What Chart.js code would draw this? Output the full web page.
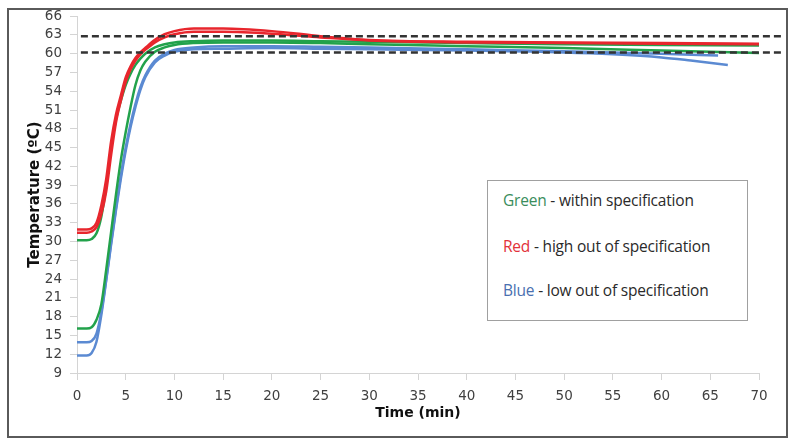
<!DOCTYPE html>
<html lang="en">
  <head>
    <meta charset="UTF-8" />
    <title>Temperature vs Time</title>
    <script src="https://cdn.jsdelivr.net/npm/chart.js"></script>
    <style>
      body {
        margin: 0;
        background: #fff;
      }
      .wrap {
        position: relative;
        width: 796px;
        height: 444px;
      }
      .frame {
        position: absolute;
        left: 7px;
        top: 8px;
        width: 777px;
        height: 426px;
        border: 2px solid #5a5a5a;
        pointer-events: none;
      }
      .note {
        position: absolute;
        left: 487px;
        top: 180px;
        width: 259px;
        height: 139px;
        border: 1px solid #a0a0a0;
        background: #fff;
        font-family: "Open Sans", sans-serif;
        font-size: 15.5px;
        color: #2a2a2a;
      }
      .note div {
        position: absolute;
        left: 15px;
        line-height: 20px;
        white-space: nowrap;
        letter-spacing: -0.2px;
      }
    </style>
  </head>
  <body>
    <div class="wrap">
      <canvas id="tempChart"></canvas>
      <div class="frame"></div>
      <div class="note">
        <div style="top: 9px"><span style="color: #3a8d5c">Green</span> - within specification</div>
        <div style="top: 55px"><span style="color: #e2323a">Red</span> - high out of specification</div>
        <div style="top: 99px"><span style="color: #4a70b0">Blue</span> - low out of specification</div>
      </div>
    </div>

    <script>
      // sample times (min)
      const timeA = [0, 1, 1.5, 2, 2.5, 3, 3.5, 4, 4.5, 5, 5.5, 6, 6.5, 7, 8, 9, 10, 12, 15, 20, 25, 30, 40, 50, 60, 70];
      const blueTime1 = timeA.slice(0, 25).concat([65.8]);
      const blueTime2 = timeA.slice(0, 24).concat([55, 60, 63, 66.8]);

      // temperatures (degC)
      const red1 = [31.9, 31.9, 32.1, 33.0, 35.8, 40.0, 46.0, 50.3, 53.3, 56.2, 58.0, 59.3, 60.2, 60.9, 62.2, 63.1, 63.6, 64.0, 64.0, 63.6, 62.8, 62.2, 61.9, 61.8, 61.7, 61.6];
      const red2 = [31.4, 31.4, 31.6, 32.3, 34.4, 38.0, 43.8, 49.0, 52.5, 55.5, 57.5, 58.9, 59.9, 60.6, 61.8, 62.6, 63.1, 63.5, 63.5, 63.2, 62.6, 62.1, 61.8, 61.7, 61.6, 61.5];
      const green1 = [30.2, 30.2, 30.4, 31.3, 34.0, 38.8, 45.0, 49.5, 52.5, 55.0, 56.8, 58.2, 59.2, 60.0, 61.0, 61.5, 61.8, 62.0, 62.1, 62.1, 62.0, 61.9, 61.7, 61.5, 61.4, 61.3];
      const green2 = [16.1, 16.1, 16.3, 17.5, 20.0, 25.5, 31.5, 37.5, 43.0, 47.5, 51.5, 55.0, 57.3, 58.7, 60.3, 61.0, 61.4, 61.7, 61.8, 61.8, 61.7, 61.5, 61.2, 60.9, 60.5, 60.1];
      const blue1 = [13.9, 13.9, 14.1, 15.3, 18.8, 24.0, 29.8, 35.3, 40.5, 45.0, 48.8, 52.0, 54.6, 56.5, 58.9, 60.0, 60.6, 61.0, 61.2, 61.2, 61.1, 61.0, 60.7, 60.4, 60.0, 59.7];
      const blue2 = [11.8, 11.8, 12.2, 14.0, 18.3, 23.8, 29.5, 35.0, 40.0, 44.5, 48.3, 51.5, 54.2, 56.2, 58.6, 59.7, 60.3, 60.7, 60.8, 60.9, 60.8, 60.7, 60.5, 60.2, 59.9, 59.4, 58.9, 58.2];

      // specification limits (dashed)
      const specUpper = 62.8;
      const specLower = 60.2;
      const specTime = [0.4, 72.5];

      const pts = (xs, ys) => xs.map((x, i) => ({ x: x, y: ys[i] }));
      const specLine = (v) => specTime.map((x) => ({ x: x, y: v }));

      const curve = (data, color, order) => ({
        data: data,
        borderColor: color,
        borderWidth: 2.5,
        pointRadius: 0,
        cubicInterpolationMode: "monotone",
        order: order,
      });
      const dashed = (data) => ({
        data: data,
        borderColor: "#333",
        borderWidth: 2.5,
        borderDash: [7, 4],
        pointRadius: 0,
        clip: false,
        order: 0,
      });

      const tickFont = { family: "DejaVu Sans", size: 13.5 };

      new Chart(document.getElementById("tempChart"), {
        type: "line",
        data: {
          datasets: [
            dashed(specLine(specUpper)),
            dashed(specLine(specLower)),
            curve(pts(timeA, red1), "#e8262d", 1),
            curve(pts(timeA, red2), "#e8262d", 1),
            curve(pts(timeA, green1), "#22a24b", 2),
            curve(pts(timeA, green2), "#22a24b", 2),
            curve(pts(blueTime1, blue1), "#5b8ad2", 3),
            curve(pts(blueTime2, blue2), "#5b8ad2", 3),
          ],
        },
        options: {
          responsive: true,
          maintainAspectRatio: false,
          animation: false,
          layout: { padding: { left: 10, right: 37, top: 16, bottom: 14 } },
          plugins: { legend: { display: false }, tooltip: { enabled: false } },
          scales: {
            x: {
              type: "linear",
              min: 0,
              max: 70,
              afterFit: (scale) => {
                scale.height = 57;
              },
              ticks: { stepSize: 5, font: tickFont, color: "#404040", padding: 8 },
              grid: { drawOnChartArea: false, tickLength: 7, color: "#d4d4d4" },
              border: { color: "#d4d4d4" },
              title: {
                display: true,
                text: "Time (min)",
                font: { family: "DejaVu Sans", size: 14, weight: "bold" },
                color: "#111",
                padding: { top: 0, bottom: 8 },
              },
            },
            y: {
              min: 9,
              max: 66,
              afterFit: (scale) => {
                scale.width = 67;
              },
              ticks: { stepSize: 3, autoSkip: false, font: tickFont, color: "#404040", padding: 8 },
              grid: { drawOnChartArea: false, tickLength: 7, color: "#d4d4d4" },
              border: { color: "#d4d4d4" },
              title: {
                display: true,
                text: "Temperature (ºC)",
                font: { family: "DejaVu Sans", size: 15, weight: "bold" },
                color: "#111",
                padding: { top: 16, bottom: 0 },
              },
            },
          },
        },
      });
    </script>
  </body>
</html>
